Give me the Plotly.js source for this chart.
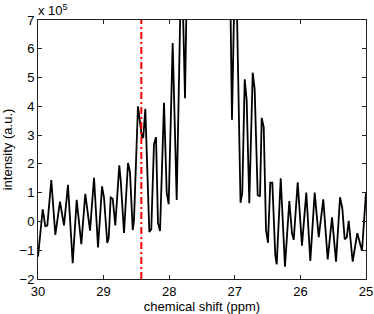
<!DOCTYPE html>
<html>
<head>
<meta charset="utf-8">
<script src="https://cdn.plot.ly/plotly-3.0.1.min.js"></script>
<style>html,body{margin:0;padding:0;background:#fff;}#chart{width:374px;height:314px;}</style>
</head>
<body>
<div id="chart"></div>
<script>
// chemical shift (ppm)
var shiftPpm = [30.000,29.928,29.889,29.858,29.797,29.736,29.665,29.623,29.604,29.543,
  29.471,29.410,29.340,29.279,29.207,29.146,29.085,29.024,28.994,28.944,
  28.922,28.892,28.861,28.822,28.761,28.739,28.689,28.628,28.598,28.556,
  28.537,28.476,28.415,28.395,28.364,28.303,28.273,28.232,28.201,28.171,
  28.140,28.079,28.038,28.008,27.947,27.886,27.812,27.759,27.683,27.530,
  27.378,27.226,27.104,27.043,26.989,26.913,26.886,26.849,26.819,26.779,
  26.727,26.697,26.651,26.616,26.590,26.559,26.524,26.494,26.459,26.428,
  26.383,26.361,26.300,26.235,26.169,26.128,26.102,26.041,25.976,25.910,
  25.849,25.782,25.721,25.651,25.584,25.518,25.457,25.396,25.361,25.325,
  25.294,25.264,25.203,25.133,25.061,25.000];
// intensity in units of 10^5 (a.u.)
var intensity = [-1.22,0.42,-0.16,-0.14,1.44,-0.47,0.69,0.00,-0.14,1.27,
  -1.45,0.75,-0.79,0.96,-0.32,1.52,-0.90,1.22,0.83,-0.75,
  -0.57,0.83,0.79,-0.14,1.95,1.43,-0.40,2.03,1.72,-0.30,
  0.03,4.00,2.91,2.93,3.91,-0.37,-0.27,2.68,2.93,-0.05,
  -0.33,4.12,1.00,0.60,6.20,0.75,9.50,4.28,18.0,45.0,
  60.0,40.0,14.0,3.53,10.0,0.65,1.00,4.94,4.22,0.63,
  5.17,4.59,0.92,0.87,3.60,3.27,-0.30,-0.74,1.35,1.35,
  -1.17,-1.49,1.50,-1.57,0.71,-0.41,-0.64,1.36,-0.84,1.00,
  -1.37,1.00,-0.55,0.77,-1.32,0.14,-1.40,0.84,0.45,-0.62,
  -0.55,0.02,-1.40,-0.41,-1.02,1.00];
var markerPpm = [28.425, 28.425];
var markerSpan = [-2, 7];
var xTicks = [30, 29, 28, 27, 26, 25];
var yTicks = [-2, -1, 0, 1, 2, 3, 4, 5, 6, 7];
var yTickText = ['\u22122', '\u22121', '0', '1', '2', '3', '4', '5', '6', '7'];

var font = 'Liberation Sans, Arial, Helvetica, sans-serif';
var traces = [
  {x: shiftPpm, y: intensity, type: 'scatter', mode: 'lines',
   line: {color: '#000', width: 1.8}, hoverinfo: 'none'},
  {x: markerPpm, y: markerSpan, type: 'scatter', mode: 'lines',
   line: {color: '#ff0000', width: 2, dash: '7px,3px,2px,3px'}, hoverinfo: 'none'}
];
var axisCommon = {
  showgrid: false, zeroline: false, showline: true, linecolor: '#222', linewidth: 1,
  mirror: 'allticks', ticks: 'inside', ticklen: 4, tickcolor: '#222', tickwidth: 1,
  tickfont: {family: font, size: 13, color: '#000'}
};
var layout = {
  width: 374, height: 314,
  margin: {l: 38, r: 8, t: 20, b: 35},
  paper_bgcolor: '#fff', plot_bgcolor: '#fff',
  showlegend: false,
  font: {family: font, size: 13, color: '#000'},
  xaxis: Object.assign({}, axisCommon, {
    range: [30, 25], tickmode: 'array', tickvals: xTicks,
    title: {text: 'chemical shift (ppm)', font: {family: font, size: 13, color: '#000'}, standoff: 2}
  }),
  yaxis: Object.assign({}, axisCommon, {
    range: [-2, 7], tickmode: 'array', tickvals: yTicks, ticktext: yTickText,
    title: {text: 'intensity (a.u.)', font: {family: font, size: 13, color: '#000'}, standoff: 4}
  }),
  annotations: [{
    xref: 'paper', yref: 'paper', x: 0, y: 1, xanchor: 'left', yanchor: 'bottom',
    xshift: -2, yshift: 0,
    text: 'x 10<sup>5</sup>', showarrow: false,
    font: {family: font, size: 13, color: '#000'}
  }]
};
Plotly.newPlot('chart', traces, layout, {staticPlot: true, displayModeBar: false});
</script>
</body>
</html>
